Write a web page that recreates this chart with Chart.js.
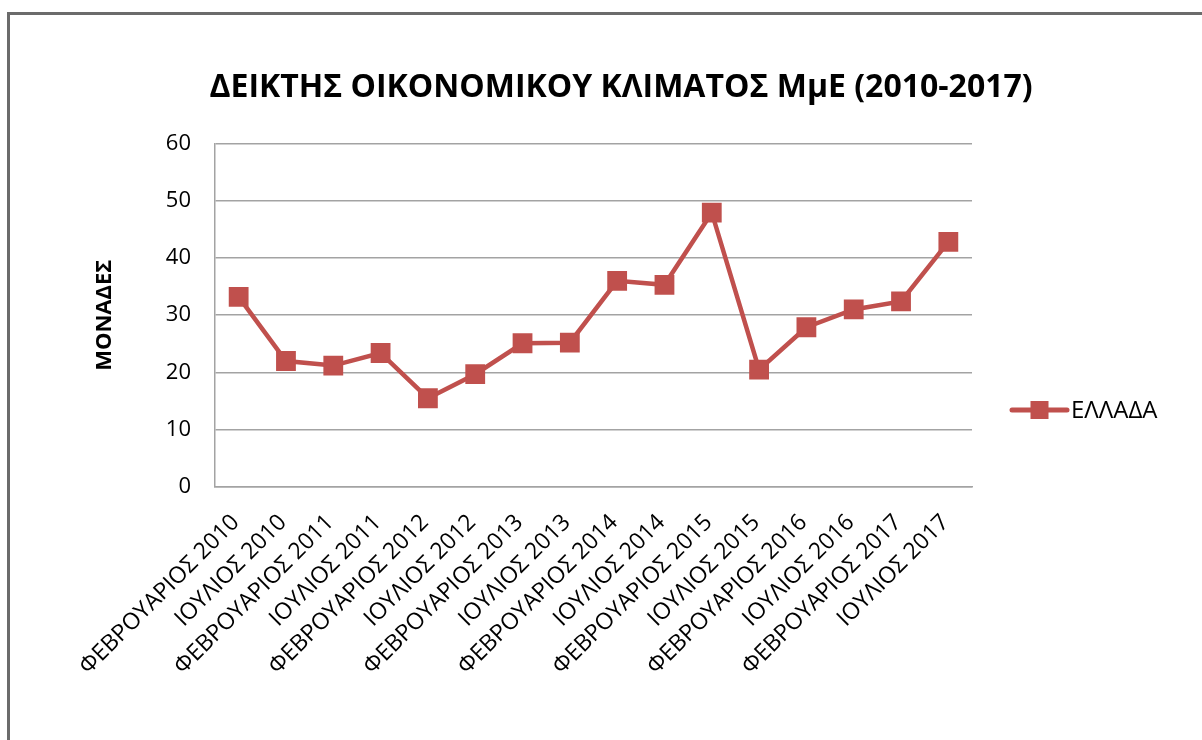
<!DOCTYPE html>
<html>
<head>
<meta charset="utf-8">
<script src="https://cdn.jsdelivr.net/npm/chart.js@4"></script>
<style>
  html, body { margin: 0; padding: 0; background: #fff; overflow: hidden; }
  #wrap { position: relative; width: 1202px; height: 740px; }
  #frame { position: absolute; left: 7px; top: 12px; right: -20px; bottom: -20px;
           border: 3px solid #6b6b6b; pointer-events: none; }
</style>
</head>
<body>
<div id="wrap">
  <canvas id="climateChart" width="1202" height="740"></canvas>
  <div id="frame"></div>
</div>
<script>
var categories = [
    'ΦΕΒΡΟΥΑΡΙΟΣ 2010', 'ΙΟΥΛΙΟΣ 2010',
    'ΦΕΒΡΟΥΑΡΙΟΣ 2011', 'ΙΟΥΛΙΟΣ 2011',
    'ΦΕΒΡΟΥΑΡΙΟΣ 2012', 'ΙΟΥΛΙΟΣ 2012',
    'ΦΕΒΡΟΥΑΡΙΟΣ 2013', 'ΙΟΥΛΙΟΣ 2013',
    'ΦΕΒΡΟΥΑΡΙΟΣ 2014', 'ΙΟΥΛΙΟΣ 2014',
    'ΦΕΒΡΟΥΑΡΙΟΣ 2015', 'ΙΟΥΛΙΟΣ 2015',
    'ΦΕΒΡΟΥΑΡΙΟΣ 2016', 'ΙΟΥΛΙΟΣ 2016',
    'ΦΕΒΡΟΥΑΡΙΟΣ 2017', 'ΙΟΥΛΙΟΣ 2017'
];
var greeceValues = [33.2, 22.0, 21.2, 23.4, 15.5, 19.7, 25.1, 25.2,
                    36.0, 35.3, 47.9, 20.5, 27.9, 31.0, 32.4, 42.8];
var seriesLabel = 'ΕΛΛΑΔΑ';
var yTicks = [0, 10, 20, 30, 40, 50, 60];

var FONT = "'Open Sans', 'Noto Sans', sans-serif";
var RED = '#C0504D';
var GRID = '#a3a3a3';

// legend drawn by hand: line with a square marker, like the office chart
var sideLegend = {
    id: 'sideLegend',
    afterDraw: function (chart) {
        var ctx = chart.ctx;
        var ds = chart.data.datasets[0];
        var x0 = 1012, x1 = 1067, y = 410;
        ctx.save();
        ctx.strokeStyle = ds.borderColor;
        ctx.lineWidth = 5;
        ctx.lineCap = 'round';
        ctx.beginPath();
        ctx.moveTo(x0, y);
        ctx.lineTo(x1, y);
        ctx.stroke();
        ctx.fillStyle = ds.backgroundColor;
        ctx.fillRect((x0 + x1) / 2 - 9, y - 9, 18, 18);
        ctx.fillStyle = '#000';
        ctx.font = '24px ' + FONT;
        ctx.textBaseline = 'middle';
        ctx.fillText(ds.label, x1 + 4, y + 1);
        ctx.restore();
    }
};

var ctx = document.getElementById('climateChart').getContext('2d');
var myChart = new Chart(ctx, {
    type: 'line',
    data: {
        labels: categories,
        datasets: [{
            label: seriesLabel,
            data: greeceValues,
            borderColor: RED,
            backgroundColor: RED,
            borderWidth: 4.5,
            pointStyle: 'rect',
            pointRadius: 14,
            pointHoverRadius: 14,
            pointBorderWidth: 0,
            tension: 0
        }]
    },
    options: {
        responsive: false,
        animation: false,
        layout: {
            padding: { left: 40, right: 0, top: 0, bottom: 0 }
        },
        plugins: {
            legend: { display: false },
            tooltip: { enabled: false },
            title: {
                display: true,
                text: 'ΔΕΙΚΤΗΣ ΟΙΚΟΝΟΜΙΚΟΥ ΚΛΙΜΑΤΟΣ ΜμΕ (2010-2017)',
                color: '#000',
                font: { family: FONT, size: 32, weight: 'bold' },
                padding: { top: 69, bottom: 36 }
            }
        },
        scales: {
            x: {
                offset: true,
                grid: { display: false, drawTicks: false },
                border: { color: GRID, width: 1.5 },
                ticks: {
                    color: '#000',
                    font: { family: FONT, size: 23 },
                    maxRotation: 45,
                    minRotation: 45,
                    autoSkip: false,
                    labelOffset: -3,
                    padding: 22
                },
                afterFit: function (scale) { scale.height = 253; }
            },
            y: {
                min: 0,
                max: 60,
                afterBuildTicks: function (scale) {
                    scale.ticks = yTicks.map(function (v) { return { value: v }; });
                },
                grid: { color: GRID, lineWidth: 1.5, drawTicks: false },
                border: { color: GRID, width: 1.5 },
                ticks: {
                    color: '#000',
                    font: { family: FONT, size: 22 },
                    padding: 24
                },
                title: {
                    display: true,
                    text: 'ΜΟΝΑΔΕΣ',
                    color: '#000',
                    font: { family: FONT, size: 22, weight: 'bold' },
                    padding: { top: 52, bottom: 0 }
                },
                afterFit: function (scale) { scale.width = 175; }
            },
            // empty right-hand box that keeps room for the legend
            legendSpace: {
                position: 'right',
                min: 0,
                max: 1,
                grid: { display: false, drawTicks: false },
                border: { display: false },
                ticks: { display: false },
                afterFit: function (scale) { scale.width = 230; }
            }
        }
    },
    plugins: [sideLegend]
});
</script>
</body>
</html>
